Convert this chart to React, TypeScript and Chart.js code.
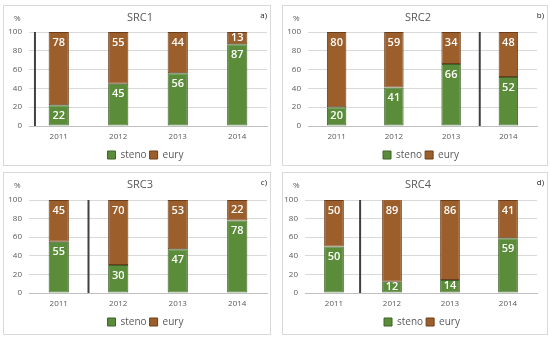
import React, { useEffect, useRef } from "react";
import { Chart, registerables } from "chart.js";

Chart.register(...registerables);

const categories = ["2011", "2012", "2013", "2014"];
const panelTitles = ["SRC1", "SRC2", "SRC3", "SRC4"];
const cornerLabels = ["a)", "b)", "c)", "d)"];
const seriesNames = ["steno", "eury"];

const stenoSRC1 = [22, 45, 56, 87];
const eurySRC1 = [78, 55, 44, 13];
const stenoSRC2 = [20, 41, 66, 52];
const eurySRC2 = [80, 59, 34, 48];
const stenoSRC3 = [55, 30, 47, 78];
const eurySRC3 = [45, 70, 53, 22];
const stenoSRC4 = [50, 12, 14, 59];
const eurySRC4 = [50, 89, 86, 41];

// separator line position (in category index units)
const separatorPositions = [-0.4, 2.5, 0.5, 0.45];

const yMin = 0;
const yMax = 100;
const yStep = 20;

const stenoSets = [stenoSRC1, stenoSRC2, stenoSRC3, stenoSRC4];
const eurySets = [eurySRC1, eurySRC2, eurySRC3, eurySRC4];

const GREEN = "#5b8c3a";
const GREEN_BORDER = "#3f6328";
const BROWN = "#9c5f2c";
const BROWN_BORDER = "#6a3e1b";
const FONT = "'Open Sans', 'Noto Sans', sans-serif";

type Geo = { left: number; top: number; width: number; height: number; yw: number; padRight: number; padTop: number; padBottom: number; legendShift: number };

const geos: Geo[] = [
  { left: 3, top: 5, width: 268, height: 161, yw: 25, padRight: 3, padTop: 26, padBottom: -5, legendShift: 10 },
  { left: 282, top: 5, width: 266, height: 161, yw: 25, padRight: 10, padTop: 26, padBottom: -5, legendShift: 11 },
  { left: 3, top: 172, width: 268, height: 163, yw: 25, padRight: 3, padTop: 27, padBottom: -3, legendShift: 10 },
  { left: 282, top: 172, width: 266, height: 163, yw: 22, padRight: 10, padTop: 27, padBottom: -3, legendShift: 12 },
];

function Panel({ idx }: { idx: number }) {
  const ref = useRef<HTMLCanvasElement | null>(null);
  const g = geos[idx];
  useEffect(() => {
    if (!ref.current) return;
    const overlay = {
      id: "overlay",
      beforeDraw(chart: any) {
        const lg = chart.legend;
        if (lg && !lg._shifted) {
          lg.left += g.legendShift;
          lg.right += g.legendShift;
          lg._shifted = true;
        }
      },
      beforeDatasetsDraw(chart: any) {
        const ctx = chart.ctx;
        const xs = chart.scales.x;
        const area = chart.chartArea;
        const sx = xs.getPixelForValue(separatorPositions[idx]);
        ctx.save();
        ctx.strokeStyle = "#404040";
        ctx.lineWidth = 2;
        ctx.beginPath();
        ctx.moveTo(sx, area.top);
        ctx.lineTo(sx, area.bottom);
        ctx.stroke();
        ctx.restore();
      },
      afterDatasetsDraw(chart: any) {
        const ctx = chart.ctx;
        ctx.save();
        ctx.fillStyle = "#ffffff";
        ctx.font = `600 11px ${FONT}`;
        ctx.textAlign = "center";
        ctx.textBaseline = "middle";
        chart.data.datasets.forEach((ds: any, di: number) => {
          const meta = chart.getDatasetMeta(di);
          meta.data.forEach((el: any, i: number) => {
            const top = Math.max(el.y, chart.chartArea.top);
            const bottom = Math.min(el.base, chart.chartArea.bottom);
            const y = Math.min(top + 10.5, (top + bottom) / 2);
            ctx.fillText(String(ds.data[i]), el.x, y);
          });
        });
        ctx.restore();
      },
      afterDraw(chart: any) {
        const ctx = chart.ctx;
        ctx.save();
        ctx.fillStyle = "#595959";
        ctx.textBaseline = "middle";
        ctx.font = `11px ${FONT}`;
        ctx.textAlign = "center";
        ctx.fillText(panelTitles[idx], chart.width / 2 + 3, 12);
        ctx.font = `8px ${FONT}`;
        ctx.textAlign = "left";
        ctx.fillText("%", 10, 13);
        ctx.fillStyle = "#222222";
        ctx.textAlign = "right";
        ctx.fillText(cornerLabels[idx], chart.width - 3, 10);
        ctx.restore();
      },
    };
    const chart = new Chart(ref.current, {
      type: "bar",
      data: {
        labels: categories,
        datasets: [
          {
            label: seriesNames[0],
            data: stenoSets[idx],
            backgroundColor: GREEN,
            borderColor: GREEN_BORDER,
            borderWidth: 1,
            borderSkipped: false,
            barPercentage: 0.34,
            categoryPercentage: 1,
          },
          {
            label: seriesNames[1],
            data: eurySets[idx],
            backgroundColor: BROWN,
            borderColor: BROWN_BORDER,
            borderWidth: 1,
            borderSkipped: false,
            barPercentage: 0.34,
            categoryPercentage: 1,
          },
        ],
      },
      options: {
        responsive: false,
        animation: false,
        devicePixelRatio: 1,
        layout: { padding: { top: g.padTop, right: g.padRight, left: 0, bottom: g.padBottom } },
        scales: {
          x: {
            stacked: true,
            grid: { display: false, drawTicks: false },
            border: { display: true, color: "#bfbfbf" },
            ticks: { color: "#595959", font: { size: 8, family: FONT }, padding: 6 },
            afterFit: (s: any) => {
              s.height = 21;
            },
          },
          y: {
            stacked: true,
            min: yMin,
            max: yMax,
            grid: { color: "#d9d9d9", drawTicks: false },
            border: { display: false },
            ticks: { stepSize: yStep, color: "#595959", font: { size: 8, family: FONT }, padding: 7 },
            afterFit: (s: any) => {
              s.width = g.yw;
            },
          },
        },
        plugins: {
          legend: {
            position: "bottom",
            labels: {
              color: "#595959",
              font: { size: 10, family: FONT },
              boxWidth: 8,
              boxHeight: 8,
              padding: 3,
            },
          },
          title: { display: false },
          tooltip: { enabled: false },
        },
      },
      plugins: [overlay],
    });
    return () => chart.destroy();
  }, [idx]);
  return (
    <div
      style={{
        position: "absolute",
        left: g.left,
        top: g.top,
        width: g.width,
        height: g.height,
        border: "1px solid #d9d9d9",
        boxSizing: "border-box",
        background: "#fff",
      }}
    >
      <canvas ref={ref} width={g.width - 2} height={g.height - 2} style={{ display: "block" }} />
    </div>
  );
}

export default function App() {
  return (
    <div style={{ position: "fixed", left: 0, top: 0, width: 550, height: 339, background: "#fff" }}>
      {[0, 1, 2, 3].map((i) => (
        <Panel key={i} idx={i} />
      ))}
    </div>
  );
}
